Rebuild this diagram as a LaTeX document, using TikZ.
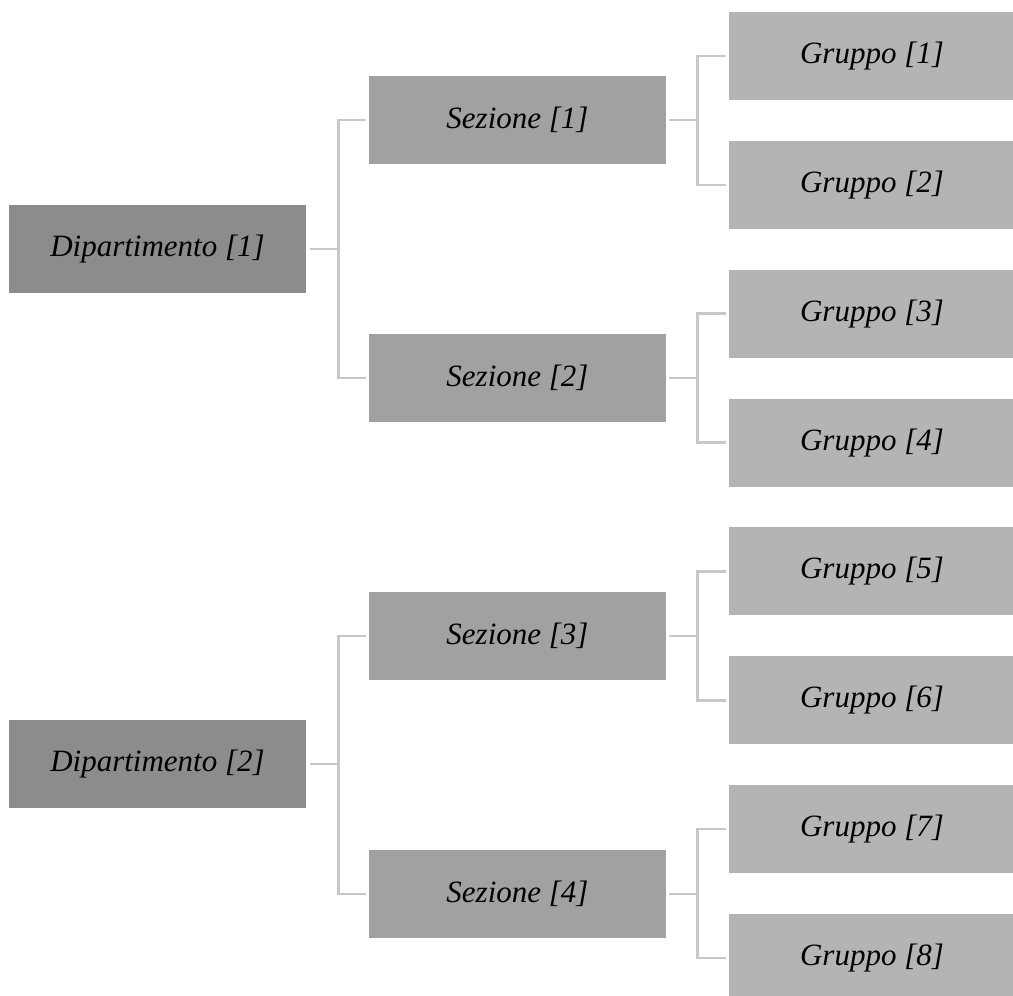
\documentclass[tikz,border=0pt]{standalone}
\usepackage{fontspec}
\setmainfont{Liberation Serif}
\usepackage{tikz}

\definecolor{dipgray}{RGB}{140,140,140}
\definecolor{sezgray}{RGB}{161,161,161}
\definecolor{grpgray}{RGB}{180,180,180}
\definecolor{linkgray}{RGB}{200,200,200}

\tikzset{
  box/.style={minimum width=297pt, minimum height=88pt, inner sep=0pt,
    font=\fontsize{31}{36}\selectfont\itshape},
  dip/.style={box, fill=dipgray},
  sez/.style={box, fill=sezgray},
  grp/.style={box, fill=grpgray, minimum width=286pt},
  link/.style={draw=linkgray, line width=2.6pt}
}

\begin{document}
\begin{tikzpicture}[x=1pt, y=1pt]
    \useasboundingbox (0,0) rectangle (1013,-996);

    % Dipartimenti
    \node[dip] (d1) at (157.5,-249) {Dipartimento [1]};
    \node[dip] (d2) at (157.5,-764) {Dipartimento [2]};

    % Sezioni
    \foreach \i/\y in {1/120, 2/378, 3/636, 4/894}
        \node[sez] (s\i) at (517.5,-\y) {Sezione [\i]};

    % Gruppi
    \foreach \i in {1,...,8}
        \node[grp] (g\i) at (872,{-56-128.857*(\i-1)}) {Gruppo [\i]};

    % Dipartimento -> Sezione
    \foreach \d/\a/\b in {1/1/2, 2/3/4} {
        \draw[link] ([xshift=4pt]d\d.east) -- ++(28,0) |- ([xshift=-3pt]s\a.west);
        \draw[link] ([xshift=4pt]d\d.east) -- ++(28,0) |- ([xshift=-3pt]s\b.west);
    }

    % Sezione -> Gruppo
    \foreach \s/\a/\b in {1/1/2, 2/3/4, 3/5/6, 4/7/8} {
        \draw[link] ([xshift=3pt]s\s.east) -- ++(28,0) |- ([xshift=-3pt]g\a.west);
        \draw[link] ([xshift=3pt]s\s.east) -- ++(28,0) |- ([xshift=-3pt]g\b.west);
    }
\end{tikzpicture}
\end{document}
